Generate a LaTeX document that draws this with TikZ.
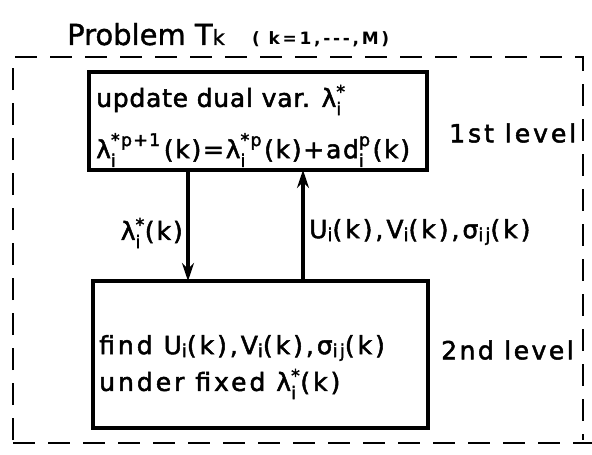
\documentclass[tikz,border=0pt]{standalone}
\usepackage{amsmath}
\usepackage{fontspec}
\setmainfont{DejaVu Sans}
\newfontfamily\wide[LetterSpace=3,FakeBold=2]{DejaVu Sans}
\newfontfamily\titlefont[FakeBold=1.2]{DejaVu Sans}
\newfontfamily\widebold[LetterSpace=16]{DejaVu Sans Bold}
\usetikzlibrary{arrows.meta}
\newcommand\ssx[2]{$^{\text{#2}}_{\text{#1}}$}
\newcommand\sbs[1]{\raisebox{-3pt}{\fontsize{18}{20}\selectfont #1}}
\begin{document}
\begin{tikzpicture}[x=1pt,y=-1pt,
  box/.style={draw,line width=3.4pt},
  txt/.style={inner sep=0pt,anchor=west,font=\wide\fontsize{25}{29}\selectfont},
  spaced/.style={txt,font=\wide\fontsize{25}{29}\selectfont\addfontfeature{LetterSpace=#1}},
  conn/.style={line width=3.3pt,-{Stealth[length=18pt,width=12pt]}},
  frame/.style={line width=2.6pt,dash pattern=on 22pt off 13pt}]
\useasboundingbox (0,0) rectangle (592,455);
% title
\node[inner sep=0pt,anchor=base west,font=\titlefont\fontsize{29}{33}\selectfont] (title) at (67,45) {Problem T\raisebox{0pt}{\fontsize{21}{24}\selectfont k}};
\node[inner sep=0pt,anchor=base west,font=\widebold\fontsize{17}{20}\selectfont] (range) at (252,44) {( k=1,---,M)};
% frame
\draw[frame] (13,440) -- (13,57) -- (583,57) -- (583,440);
\draw[frame] (13,443) -- (592,443);
% boxes
\coordinate (tl) at (89,72);
\coordinate (br) at (427,170);
\draw[box] (tl) rectangle (br);
\coordinate (btl) at (93,281);
\coordinate (bbr) at (428,428);
\draw[box] (btl) rectangle (bbr);
\node[txt] (upd) at (96,100) {update dual var. λ\ssx{i}{*}};
\node[spaced=7] (eq) at (96,150) {λ\ssx{i}{*p+1}\hspace{3pt}(k)=λ\ssx{i}{*p}\hspace{2pt}(k)+ad\ssx{i}{p}\hspace{2pt}(k)};
\node[spaced=12] (find) at (99,348) {find U\sbs{i}(k),V\sbs{i}(k),σ\sbs{ij}(k)};
\node[spaced=12] (under) at (99,384) {under fixed λ\ssx{i}{*}(k)};
\node[spaced=12] (l1) at (449,133) {1st level};
\node[spaced=10] (l2) at (441,350) {2nd level};
% connectors
\coordinate (d1) at (188,170);
\coordinate (d2) at (188,281);
\coordinate (u1) at (303,281);
\coordinate (u2) at (303,170);
\draw[conn] (d1) -- (d2);
\draw[conn] (u1) -- (u2);
\node[spaced=8,anchor=east] (lamlab) at (183,233) {λ\ssx{i}{*}(k)};
\node[spaced=12] (ulab) at (309,232) {U\sbs{i}(k),V\sbs{i}(k),σ\sbs{ij}(k)};
\end{tikzpicture}
\end{document}
